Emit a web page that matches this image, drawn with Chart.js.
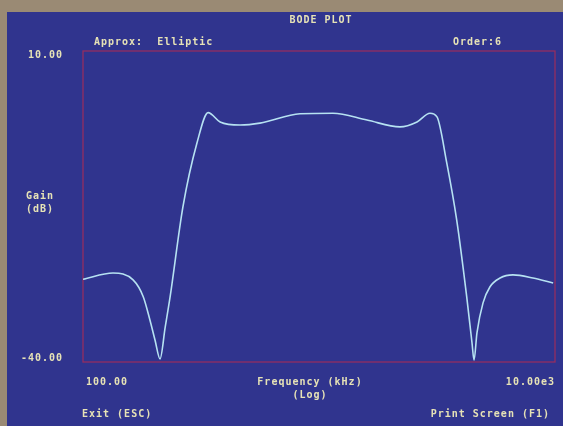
<!DOCTYPE html>
<html>
<head>
<meta charset="utf-8">
<script src="https://cdn.jsdelivr.net/npm/chart.js@4.4.1/dist/chart.umd.min.js"></script>
<style>
  html, body { margin: 0; padding: 0; background: #9a8a74; }
  #wrap { position: relative; width: 563px; height: 426px; }
</style>
</head>
<body>
<div id="wrap"><canvas id="bode"></canvas></div>
<script>
const freqKHz = [100, 134, 163, 180, 192, 202, 212, 223, 234, 265, 304, 339, 381, 463, 562,
  831, 1146, 1597, 2204, 2602, 2953, 3162, 3478, 3833, 4225, 4449, 4539, 4670, 4955, 5304,
  5848, 6637, 8070, 9820];
const gainDb = [-26.7, -25.7, -26.8, -29.5, -33.2, -36.5, -39.5, -34.4, -29.5, -15.1, -4.8,
  0.1, -1.4, -1.9, -1.6, -0.1, 0.0, -1.1, -2.2, -1.4, 0.0, -0.6, -8.0, -17.2, -29.5, -36.9,
  -39.7, -35.3, -30.5, -27.9, -26.5, -26.0, -26.5, -27.3];

const yTicks = [10, -40];
const yTickLabels = ['10.00', '-40.00'];
const xTicks = [100, 10000];
const xTickLabels = ['100.00', '10.00e3'];

const points = freqKHz.map((f, i) => ({ x: f, y: gainDb[i] }));

const textColor = '#e6e2b6';
const screenBlue = '#30348e';

// achtergrond, kader en alle teksten van het scherm
const screenPlugin = {
  id: 'screen',
  beforeDraw(chart) {
    const ctx = chart.ctx;
    ctx.save();
    ctx.fillStyle = '#9a8a74';
    ctx.fillRect(0, 0, chart.width, chart.height);
    ctx.fillStyle = screenBlue;
    ctx.fillRect(7, 12, chart.width - 7, chart.height - 12);
    ctx.restore();
  },
  beforeDatasetsDraw(chart) {
    const { ctx, chartArea: a } = chart;
    ctx.save();
    ctx.strokeStyle = 'rgba(160, 46, 92, 0.9)';
    ctx.lineWidth = 1.3;
    ctx.strokeRect(a.left, a.top, a.right - a.left, a.bottom - a.top);
    ctx.restore();
  },
  afterDraw(chart) {
    const { ctx, chartArea: a, scales } = chart;
    ctx.save();
    ctx.font = 'bold 10px "DejaVu Sans Mono"';
    ctx.letterSpacing = '1px';
    ctx.fillStyle = textColor;
    ctx.textBaseline = 'middle';

    const put = (txt, x, y, align) => { ctx.textAlign = align; ctx.fillText(txt, x, y); };

    put('BODE PLOT', 321, 20, 'center');
    put('Approx:  Elliptic', 94, 42, 'left');
    put('Order:6', 453, 42, 'left');

    // y labels
    yTicks.forEach((v, i) => {
      const y = scales.y.getPixelForValue(v) + (i === 0 ? 4 : -4);
      put(yTickLabels[i], 63, y, 'right');
    });
    put('Gain', 26, 196, 'left');
    put('(dB)', 26, 209, 'left');

    // x labels
    const yx = a.bottom + 20;
    put(xTickLabels[0], scales.x.getPixelForValue(xTicks[0]) + 3, yx, 'left');
    put(xTickLabels[1], scales.x.getPixelForValue(xTicks[1]), yx, 'right');
    put('Frequency (kHz)', 310, yx, 'center');
    put('(Log)', 310, 395, 'center');

    put('Exit (ESC)', 82, 414, 'left');
    put('Print Screen (F1)', 550, 414, 'right');
    ctx.restore();
  }
};

new Chart(document.getElementById('bode'), {
  type: 'line',
  data: {
    datasets: [{
      data: points,
      borderColor: '#b6e2f2',
      borderWidth: 1.6,
      pointRadius: 0,
      fill: false,
      cubicInterpolationMode: 'monotone'
    }]
  },
  options: {
    responsive: true,
    maintainAspectRatio: false,
    animation: false,
    layout: { padding: { left: 83, top: 51, right: 8, bottom: 64 } },
    plugins: { legend: { display: false }, tooltip: { enabled: false } },
    scales: {
      x: { type: 'logarithmic', min: xTicks[0], max: xTicks[1], display: false },
      y: { type: 'linear', min: yTicks[1], max: yTicks[0], display: false }
    }
  },
  plugins: [screenPlugin]
});
</script>
</body>
</html>
